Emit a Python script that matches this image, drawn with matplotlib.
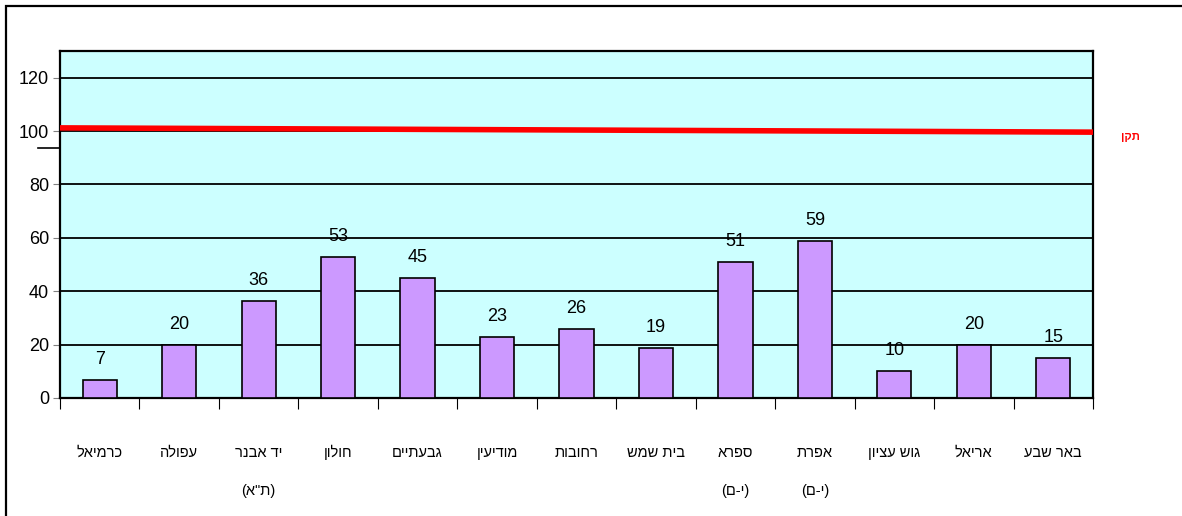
import matplotlib
matplotlib.use("Agg")
import matplotlib.pyplot as plt
import numpy as np

plt.rcParams['font.family'] = ['Liberation Sans', 'DejaVu Sans']

# ערים משמאל לימין
cities = ["כרמיאל", "עפולה", "יד אבנר", "חולון", "גבעתיים", "מודיעין", "רחובות",
          "בית שמש", "ספרא", "אפרת", "גוש עציון", "אריאל", "באר שבע"]
# zweite Zeile, schon in Anzeigereihenfolge (links nach rechts)
TA = '(\u05d0"\u05ea)'
JM = '(\u05dd-\u05d9)'
sublabels = ["", "", TA, "", "", "", "", "", JM, JM, "", "", ""]
values = [6.6, 20, 36.3, 53, 45, 23, 26, 18.6, 51, 59, 10, 20, 15]
standard = [101.2, 99.6]   # קו התקן, משמאל לימין
standard_label = "תקן"

def heb(s):
    # matplotlib kennt kein bidi -> umdrehen
    return s[::-1]

fig = plt.figure(figsize=(11.82, 5.16), dpi=100)
ax = fig.add_axes([60 / 1182, 1 - 398 / 516, 1033 / 1182, 347 / 516])
ax.set_facecolor("#CCFFFF")

n = len(cities)
x = np.arange(n)
ax.bar(x, values, width=0.43, color="#CC99FF", edgecolor="black", linewidth=1.2, zorder=3)
for xi, v in zip(x, values):
    ax.text(xi, v + 4.5, f"{v:.0f}", ha="center", va="bottom", fontsize=13, zorder=4)

ax.plot([-0.5, n - 0.5], standard, color="red", linewidth=4, zorder=5, solid_capstyle="butt")

ax.set_xlim(-0.5, n - 0.5)
ax.set_ylim(0, 130)
ax.set_yticks(range(0, 121, 20))
ax.tick_params(axis="y", labelsize=13, length=5, color="gray", pad=3)
ax.yaxis.grid(True, color="black", linewidth=1.3, zorder=1)
ax.set_axisbelow(True)

ax.set_xticks(np.arange(-0.5, n, 1.0))
ax.set_xticklabels([])
ax.tick_params(axis="x", length=8, color="black", width=0.8)
for s in ax.spines.values():
    s.set_linewidth(1.6)

for xi, c, sub in zip(x, cities, sublabels):
    ax.text(xi, -20.5, heb(c), ha="center", va="center", fontsize=10.5)
    if sub:
        ax.text(xi, -35, sub, ha="center", va="center", fontsize=10.5)

fig.text(1130 / 1182, 1 - 137 / 516, heb(standard_label), color="red", fontsize=8,
         fontweight="bold", ha="center", va="center")

# Reste des Pfeils links
fig.add_artist(plt.Line2D([38 / 1182, 60 / 1182], [1 - 148 / 516, 1 - 148 / 516],
                          color="black", linewidth=1.2))

# Rahmen des Diagramms
fig.add_artist(plt.Rectangle((6 / 1182, -0.1), 1.2, 1.1 - 6 / 516,
                             fill=False, edgecolor="black", linewidth=1.6,
                             transform=fig.transFigure))

fig.savefig("out.png", dpi=100)
